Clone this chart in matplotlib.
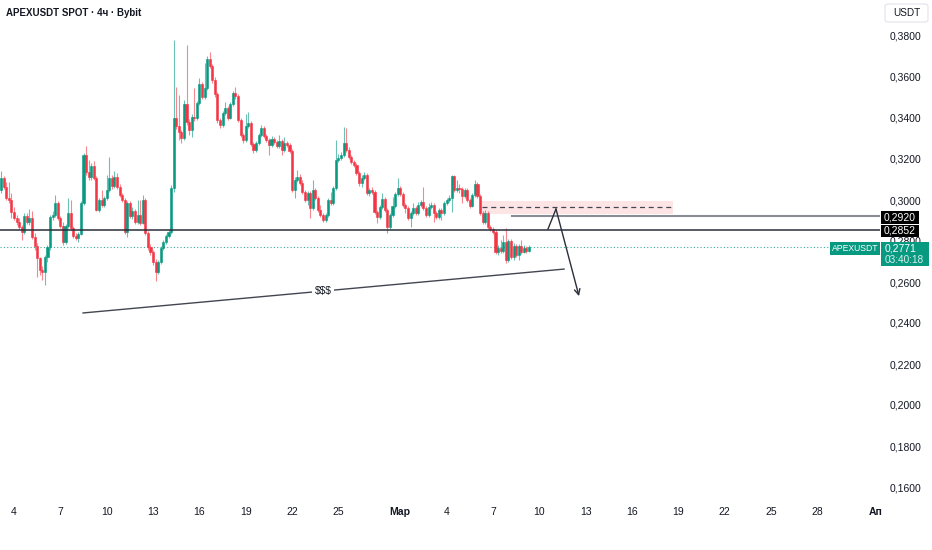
import numpy as np
import matplotlib
matplotlib.use("Agg")
import matplotlib.pyplot as plt
from matplotlib.patches import Rectangle, FancyBboxPatch

# 4h candles APEXUSDT, prices in 1e-4 USDT, first candle Feb 3 04:00
opens = [
    3049, 3107, 3063, 3010, 3000, 2941, 2912, 2893, 2868, 2844,
    2922, 2893, 2912, 2820, 2775, 2717, 2659, 2649, 2722, 2770,
    2917, 2927, 2985, 2912, 2873, 2795, 2873, 2937, 2863, 2824,
    2815, 2834, 2985, 3220, 3137, 3112, 3166, 3107, 2951, 3000,
    2976, 3010, 3049, 3107, 3068, 3112, 3063, 3024, 3000, 2844,
    2985, 2922, 2946, 2893, 2927, 2888, 3000, 2839, 2770, 2746,
    2698, 2649, 2698, 2766, 2795, 2824, 2844, 3059, 3400, 3361,
    3332, 3302, 3468, 3380, 3341, 3405, 3400, 3473, 3566, 3502,
    3546, 3688, 3654, 3585, 3517, 3390, 3366, 3424, 3449, 3400,
    3468, 3522, 3507, 3390, 3317, 3293, 3361, 3376, 3273, 3244,
    3278, 3317, 3351, 3312, 3293, 3268, 3298, 3283, 3263, 3288,
    3244, 3278, 3268, 3239, 3049, 3098, 3112, 3083, 3039, 3000,
    3034, 2961, 3049, 3010, 2951, 2927, 2902, 2927, 3000, 2985,
    3059, 3195, 3205, 3220, 3278, 3244, 3210, 3185, 3171, 3132,
    3083, 3107, 3122, 3034, 3049, 3039, 2941, 2917, 2966, 3005,
    2951, 2868, 2927, 2971, 3029, 3059, 3029, 2976, 2961, 2912,
    2937, 2961, 2937, 2976, 2990, 2961, 2927, 2966, 2976, 2937,
    2917, 2951, 2937, 2985, 3000, 3010, 3117, 3049, 3059, 3054,
    3020, 3049, 3000, 2971, 3024, 3078, 3020, 2937, 2893, 2937,
    2868, 2859, 2844, 2746, 2766, 2751, 2795, 2707, 2800, 2722,
    2775, 2732, 2775, 2746, 2766, 2751,
]
closes = [
    3107, 3063, 3010, 3000, 2941, 2912, 2893, 2868, 2844, 2922,
    2893, 2912, 2820, 2775, 2717, 2659, 2649, 2722, 2770, 2917,
    2927, 2985, 2912, 2873, 2795, 2873, 2937, 2863, 2824, 2815,
    2834, 2985, 3220, 3137, 3112, 3166, 3107, 2951, 3000, 2976,
    3010, 3049, 3107, 3068, 3112, 3063, 3024, 3000, 2844, 2985,
    2922, 2946, 2893, 2927, 2888, 3000, 2839, 2770, 2746, 2698,
    2649, 2698, 2766, 2795, 2824, 2844, 3059, 3400, 3361, 3332,
    3302, 3468, 3380, 3341, 3405, 3400, 3473, 3566, 3502, 3546,
    3688, 3654, 3585, 3517, 3390, 3366, 3424, 3449, 3400, 3468,
    3522, 3507, 3390, 3317, 3293, 3361, 3376, 3273, 3244, 3278,
    3317, 3351, 3312, 3293, 3268, 3298, 3283, 3263, 3288, 3244,
    3278, 3268, 3239, 3049, 3098, 3112, 3083, 3039, 3000, 3034,
    2961, 3049, 3010, 2951, 2927, 2902, 2927, 3000, 2985, 3059,
    3195, 3205, 3220, 3278, 3244, 3210, 3185, 3171, 3132, 3083,
    3107, 3122, 3034, 3049, 3039, 2941, 2917, 2966, 3005, 2951,
    2868, 2927, 2971, 3029, 3059, 3029, 2976, 2961, 2912, 2937,
    2961, 2937, 2976, 2990, 2961, 2927, 2966, 2976, 2937, 2917,
    2951, 2937, 2985, 3000, 3010, 3117, 3049, 3059, 3054, 3020,
    3049, 3000, 2971, 3024, 3078, 3020, 2937, 2893, 2937, 2868,
    2859, 2844, 2746, 2766, 2751, 2795, 2707, 2800, 2722, 2775,
    2732, 2775, 2746, 2766, 2751, 2771,
]
highs = [
    3141, 3117, 3088, 3088, 3034, 2966, 2927, 2912, 2878, 2937,
    2937, 2956, 2946, 2839, 2790, 2722, 2678, 2732, 2780, 2927,
    2946, 3024, 2995, 2922, 2893, 2883, 3010, 3000, 2873, 2839,
    2844, 2995, 3229, 3263, 3195, 3180, 3190, 3117, 3010, 3049,
    3020, 3122, 3210, 3122, 3141, 3132, 3078, 3034, 3010, 2995,
    2995, 2966, 2956, 3000, 3000, 3024, 3010, 2849, 2785, 2756,
    2712, 2707, 2775, 2805, 2834, 2859, 3073, 3780, 3551, 3512,
    3341, 3488, 3756, 3395, 3420, 3546, 3483, 3595, 3576, 3668,
    3703, 3722, 3663, 3600, 3527, 3400, 3434, 3478, 3459, 3478,
    3532, 3551, 3517, 3400, 3327, 3420, 3429, 3385, 3283, 3288,
    3327, 3366, 3361, 3322, 3302, 3312, 3307, 3293, 3317, 3298,
    3307, 3288, 3278, 3249, 3112, 3146, 3127, 3098, 3049, 3044,
    3044, 3098, 3059, 3020, 2976, 2937, 2937, 3010, 3039, 3068,
    3293, 3224, 3234, 3356, 3351, 3258, 3220, 3195, 3180, 3141,
    3122, 3137, 3132, 3059, 3063, 3049, 2951, 2976, 3034, 3015,
    2961, 2937, 3015, 3039, 3107, 3068, 3039, 2985, 2971, 2946,
    2985, 2971, 2990, 3000, 3063, 2971, 2985, 2990, 2985, 2946,
    2961, 2961, 2995, 3010, 3024, 3122, 3122, 3098, 3078, 3063,
    3059, 3059, 3010, 3034, 3098, 3088, 3029, 2946, 2951, 2946,
    2878, 2868, 2854, 2780, 2805, 2829, 2864, 2810, 2810, 2790,
    2785, 2785, 2805, 2780, 2775, 2780,
]
lows = [
    3034, 3054, 3000, 2985, 2912, 2902, 2878, 2858, 2805, 2834,
    2883, 2878, 2810, 2756, 2624, 2634, 2610, 2585, 2698, 2756,
    2902, 2917, 2902, 2863, 2780, 2785, 2863, 2854, 2815, 2805,
    2795, 2829, 2976, 3122, 3098, 3098, 3098, 2946, 2941, 2966,
    2966, 3000, 3039, 3054, 3059, 3054, 3015, 2990, 2834, 2820,
    2912, 2907, 2883, 2883, 2878, 2883, 2829, 2756, 2732, 2683,
    2605, 2639, 2688, 2756, 2785, 2815, 2834, 3039, 3346, 3293,
    3278, 3293, 3366, 3317, 3307, 3385, 3390, 3463, 3493, 3493,
    3537, 3644, 3571, 3502, 3376, 3351, 3356, 3415, 3390, 3395,
    3459, 3493, 3380, 3307, 3278, 3283, 3351, 3263, 3229, 3234,
    3268, 3307, 3302, 3283, 3220, 3258, 3273, 3254, 3254, 3220,
    3234, 3258, 3229, 3039, 3010, 3088, 3073, 3029, 2990, 2976,
    2912, 2951, 3000, 2941, 2917, 2893, 2893, 2917, 2976, 2976,
    3049, 3185, 3195, 3210, 3234, 3200, 3175, 3161, 3122, 3068,
    3063, 3098, 3024, 3020, 3029, 2932, 2888, 2907, 2956, 2941,
    2839, 2858, 2917, 2961, 3020, 3020, 2966, 2937, 2902, 2868,
    2927, 2927, 2927, 2966, 2951, 2917, 2917, 2956, 2893, 2907,
    2907, 2902, 2927, 2976, 2990, 2941, 3039, 3039, 3034, 2985,
    3010, 2990, 2961, 2966, 3015, 3010, 2927, 2883, 2883, 2858,
    2849, 2834, 2736, 2732, 2741, 2741, 2693, 2698, 2712, 2707,
    2722, 2707, 2736, 2741, 2741, 2746,
]

# x axis in "Feb day" units: Feb d 00:00 = d, Mar 1 = 29, Apr 1 = 60
first_bar = 3 + 4 / 24
tick_pos = [4, 7, 10, 13, 16, 19, 22, 25, 29, 32, 35, 38, 41, 44, 47, 50, 53, 56, 59.75]
tick_lab = ["4", "7", "10", "13", "16", "19", "22", "25", "Мар", "4", "7", "10",
            "13", "16", "19", "22", "25", "28", "Ап"]
price_ticks = [0.16, 0.18, 0.20, 0.22, 0.24, 0.26, 0.28, 0.30, 0.32, 0.34, 0.36, 0.38]

# drawings
level_black = 0.2852
level_gray = 0.2920
last_price = 0.2771
gray_start = 36.23
zone_x = [34.16, 46.65]
zone_y = [0.2932, 0.2995]
zone_mid = 0.2966
liq_line_x = [8.47, 39.6]
liq_line_y = [0.2449, 0.2663]
arrow_x = [38.56, 39.08, 40.57]
arrow_y = [0.2858, 0.2956, 0.2531]

UP = "#089981"
DOWN = "#F23645"
TXT = "#131722"
W, H = 932, 550

plt.rcParams['font.family'] = ['Liberation Sans', 'DejaVu Sans']

fig = plt.figure(figsize=(W / 100, H / 100), dpi=100)
ax = fig.add_axes([0, 50 / H, 880 / W, 500 / H])

o = np.array(opens) / 1e4
c = np.array(closes) / 1e4
hi = np.array(highs) / 1e4
lo = np.array(lows) / 1e4
x = first_bar + np.arange(len(c)) / 6
cols = np.where(c >= o, UP, DOWN)

ax.vlines(x, lo, hi, colors=cols, lw=0.8, alpha=0.6, zorder=3)
ax.bar(x, np.abs(c - o), bottom=np.minimum(o, c), width=0.8 / 6, color=cols,
       edgecolor=cols, linewidth=0.4, zorder=4)

px_per_day = 15.45
ax.set_xlim(4 - 14 / px_per_day, 4 + 866 / px_per_day)
ax.set_ylim(0.38 - 464 * 0.02 / 41, 0.38 + 36 * 0.02 / 41)

for s in ax.spines.values():
    s.set_visible(False)
ax.set_xticks(tick_pos)
ax.set_xticklabels(tick_lab)
for t in ax.get_xticklabels():
    if t.get_text() in ("Мар", "Ап"):
        t.set_fontweight("bold")
ax.yaxis.tick_right()
ax.set_yticks(price_ticks)
ax.set_yticklabels(["{:.4f}".format(p).replace(".", ",") for p in price_ticks])
ax.tick_params(axis="both", length=0, labelsize=7.5, colors=TXT)
ax.tick_params(axis="x", pad=5)
ax.tick_params(axis="y", pad=7)

# horizontal levels
ax.axhline(level_black, color="#2a2e39", lw=1.1, zorder=5)
ax.plot([gray_start, ax.get_xlim()[1]], [level_gray, level_gray], color="#8a8d96", lw=1.5, zorder=5)
ax.axhline(last_price, color=UP, lw=0.8, ls=(0, (1, 2)), alpha=0.8, zorder=2)

# supply zone
ax.add_patch(Rectangle((zone_x[0], zone_y[0]), zone_x[1] - zone_x[0], zone_y[1] - zone_y[0],
                       facecolor=DOWN, alpha=0.13, edgecolor="none", zorder=1))
ax.plot([zone_x[0] + 0.13, zone_x[1]], [zone_mid, zone_mid], color="#434651", lw=0.9,
        ls=(0, (4, 3)), zorder=5)

# liquidity trendline
ax.plot(liq_line_x, liq_line_y, color="#434651", lw=1.0, zorder=5)
tx = 24.0
ty = liq_line_y[0] + (tx - liq_line_x[0]) / (liq_line_x[1] - liq_line_x[0]) * (liq_line_y[1] - liq_line_y[0])
ax.text(tx, ty, "$$$", ha="center", va="center", fontsize=7.5, color=TXT, zorder=6,
        bbox=dict(facecolor="white", edgecolor="none", pad=1.5))

# path arrow
ax.plot(arrow_x[:2], arrow_y[:2], color="#2a2e39", lw=1.0, zorder=5)
ax.annotate("", xy=(arrow_x[2], arrow_y[2]), xytext=(arrow_x[1], arrow_y[1]),
            arrowprops=dict(arrowstyle="->", color="#2a2e39", lw=1.0, shrinkA=0, shrinkB=0,
                            mutation_scale=10), zorder=5)


def fx(px):
    return px / W


def fy(py):
    return 1 - py / H


def box(x0, y0, x1, y1, color):
    fig.add_artist(Rectangle((fx(x0), fy(y1)), fx(x1) - fx(x0), fy(y0) - fy(y1),
                             transform=fig.transFigure, facecolor=color, edgecolor="none",
                             zorder=10))


# price scale labels
box(881, 211, 919, 224, "#000000")
fig.text(fx(900), fy(217.5), "0,2920", color="white", fontsize=7.5, ha="center", va="center", zorder=11)
box(881, 225, 919, 237, "#000000")
fig.text(fx(900), fy(231), "0,2852", color="white", fontsize=7.5, ha="center", va="center", zorder=11)
box(830, 242, 880, 255, UP)
fig.text(fx(855), fy(248.5), "APEXUSDT", color="white", fontsize=6.2, ha="center", va="center", zorder=11)
box(881, 242, 929, 266, UP)
fig.text(fx(885), fy(248.5), "0,2771", color="white", fontsize=7.5, ha="left", va="center", zorder=11)
fig.text(fx(885), fy(260), "03:40:18", color="#d8f0ea", fontsize=7.2, ha="left", va="center", zorder=11)

fig.add_artist(FancyBboxPatch((fx(885), fy(22)), fx(928) - fx(885), fy(4) - fy(22),
                              boxstyle="round,pad=0,rounding_size=0.004",
                              transform=fig.transFigure, facecolor="white",
                              edgecolor="#e0e3eb", lw=0.8, zorder=10))
fig.text(fx(906.5), fy(13), "USDT", color=TXT, fontsize=7.2, ha="center", va="center", zorder=11)

fig.text(fx(6), fy(13), "APEXUSDT SPOT · 4ч · Bybit", color=TXT, fontsize=7.0,
         fontweight="bold", ha="left", va="center")

fig.savefig("out.png", dpi=100, facecolor="white")
